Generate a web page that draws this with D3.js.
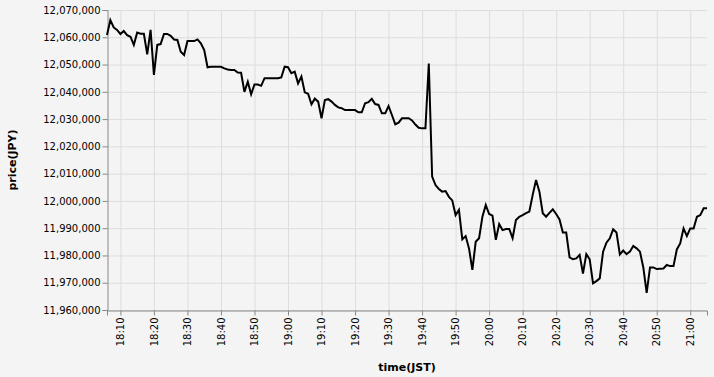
<!DOCTYPE html>
<html>
<head>
<meta charset="utf-8">
<script src="https://cdn.jsdelivr.net/npm/d3@7"></script>
<style>
  html, body { margin: 0; padding: 0; background: #f4f4f4; }
  svg { display: block; font-family: 'DejaVu Sans', sans-serif; }
</style>
</head>
<body>
<div class="canvas"></div>
<script>
// one price per minute, starting at startTime
const startTime = '18:06'
const prices = [
  12060800, 12066300, 12063600, 12062700, 12061200, 12062300, 12060800, 12060200, 12057200, 12061700,
  12061300, 12061300, 12053700, 12062700, 12046200, 12057200, 12057500, 12061200, 12061200, 12060500,
  12059200, 12059000, 12054700, 12053500, 12058600, 12058600, 12058600, 12059200, 12057800, 12055300,
  12049000, 12049200, 12049200, 12049200, 12049200, 12048600, 12048200, 12048000, 12048000, 12047100,
  12047000, 12040000, 12043700, 12039100, 12042700, 12042700, 12042200, 12045000, 12045000, 12045000,
  12045000, 12045000, 12045300, 12049200, 12049000, 12046800, 12047400, 12043100, 12045600, 12039800,
  12039300, 12035400, 12037500, 12036400, 12030300, 12037000, 12037300, 12036400, 12035200, 12034300,
  12034000, 12033300, 12033300, 12033300, 12033300, 12032500, 12032500, 12035800, 12036200, 12037400,
  12035500, 12035200, 12032100, 12032100, 12034800, 12031500, 12028100, 12028700, 12030300, 12030300,
  12030300, 12029500, 12028000, 12026800, 12026600, 12026600, 12050400, 12008900, 12005800, 12004400,
  12003400, 12003600, 12001500, 12000200, 11994800, 11996700, 11985900, 11987100, 11982600, 11974700,
  11985000, 11986300, 11994200, 11998500, 11995200, 11994600, 11985700, 11991500, 11989300, 11989700,
  11989700, 11986300, 11993000, 11994200, 11994800, 11995500, 11996100, 12002200, 12007700, 12003400,
  11995500, 11994200, 11995600, 11996900, 11995200, 11993200, 11988400, 11988400, 11979300, 11978600,
  11978900, 11980200, 11973400, 11980500, 11978600, 11969800, 11970600, 11971600, 11981400, 11984700,
  11986300, 11989600, 11988400, 11980400, 11981800, 11980500, 11981400, 11983500, 11982600, 11981400,
  11975600, 11966300, 11975600, 11975600, 11975000, 11975100, 11975200, 11976500, 11976100, 11976100,
  11982200, 11984400, 11989900, 11987100, 11989900, 11989900, 11994200, 11994800, 11997300, 11997300
]
const xTicks = ['18:10', '18:20', '18:30', '18:40', '18:50', '19:00', '19:10', '19:20', '19:30',
  '19:40', '19:50', '20:00', '20:10', '20:20', '20:30', '20:40', '20:50', '21:00']
const yTicks = [11960000, 11970000, 11980000, 11990000, 12000000, 12010000,
  12020000, 12030000, 12040000, 12050000, 12060000, 12070000]

const width = 714, height = 377
const margin = {top: 10, right: 7, bottom: 67, left: 107}
const plotW = width - margin.left - margin.right
const plotH = height - margin.top - margin.bottom

const parseTime = d3.timeParse('%Y-%m-%d %H:%M')
const day = '2021-01-01 '
const start = parseTime(day + startTime)
const data = prices.map((price, i) => ({time: d3.timeMinute.offset(start, i), price}))

const x = d3.scaleTime()
  .domain(d3.extent(data, d => d.time))
  .range([0, plotW])
const y = d3.scaleLinear()
  .domain([yTicks[0], yTicks[yTicks.length - 1]])
  .range([plotH, 0])

const svg = d3.select('.canvas')
  .append('svg')
  .attr('width', width)
  .attr('height', height)
const graph = svg.append('g')
  .attr('transform', `translate(${margin.left}, ${margin.top})`)

const xTickDates = xTicks.map(t => parseTime(day + t))

// grid
graph.append('g')
  .selectAll('line.vgrid')
  .data(xTickDates)
  .join('line')
  .attr('x1', d => x(d) + 0.5).attr('x2', d => x(d) + 0.5)
  .attr('y1', 0).attr('y2', plotH)
  .attr('stroke', '#ddd')
graph.append('g')
  .selectAll('line.hgrid')
  .data(yTicks)
  .join('line')
  .attr('x1', 0).attr('x2', plotW)
  .attr('y1', d => y(d) + 0.5).attr('y2', d => y(d) + 0.5)
  .attr('stroke', '#ddd')

// axes
const xAxis = graph.append('g')
  .attr('transform', `translate(0, ${plotH + 0.5})`)
  .call(d3.axisBottom(x)
    .tickValues(xTickDates)
    .tickFormat(d3.timeFormat('%H:%M'))
    .tickSizeOuter(0)
    .tickSize(5)
    .tickPadding(2))
xAxis.selectAll('text')
  .attr('transform', 'rotate(-90)')
  .attr('text-anchor', 'end')
  .attr('x', -7)
  .attr('y', 0)
  .attr('dy', '0.32em')

const yAxis = graph.append('g')
  .attr('transform', 'translate(0.5, 0)')
  .call(d3.axisLeft(y)
    .tickValues(yTicks)
    .tickFormat(d3.format(','))
    .tickSizeOuter(0)
    .tickSize(5)
    .tickPadding(2))

svg.selectAll('.domain, .tick line').attr('stroke', '#888')
svg.selectAll('.tick text')
  .attr('fill', '#000')
  .style('font-size', '10px')
  .style('font-family', "'DejaVu Sans', sans-serif")

// line
graph.append('path')
  .datum(data)
  .attr('fill', 'none')
  .attr('stroke', '#000')
  .attr('stroke-width', 2)
  .attr('d', d3.line().x(d => x(d.time)).y(d => y(d.price)))

// titles
svg.append('text')
  .attr('x', margin.left + plotW / 2)
  .attr('y', 371)
  .attr('text-anchor', 'middle')
  .style('font-size', '11px')
  .style('font-weight', 'bold')
  .text('time(JST)')
svg.append('text')
  .attr('transform', `translate(16, ${margin.top + plotH / 2}) rotate(-90)`)
  .attr('text-anchor', 'middle')
  .style('font-size', '11px')
  .style('font-weight', 'bold')
  .text('price(JPY)')
</script>
</body>
</html>
